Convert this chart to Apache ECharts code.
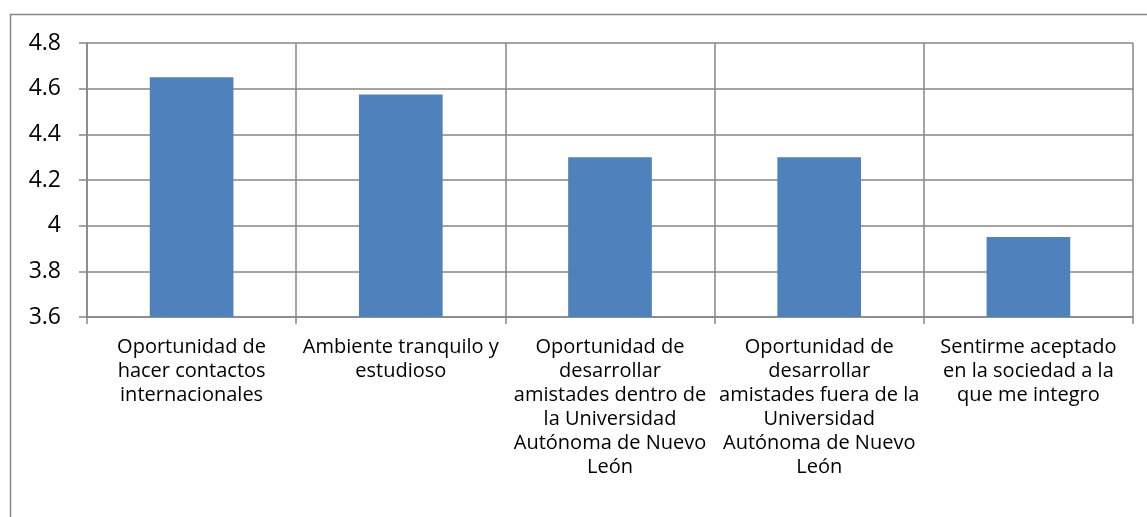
<!DOCTYPE html>
<html>
<head>
<meta charset="utf-8">
<script src="https://cdn.jsdelivr.net/npm/echarts@6/dist/echarts.min.js"></script>
<style>
  html, body { margin: 0; padding: 0; background: #fff; }
  #chart { width: 1147px; height: 517px; }
</style>
</head>
<body>
<div id="chart"></div>
<script>
// categorías (saltos de línea como en el original)
const categories = [
  'Oportunidad de\nhacer contactos\ninternacionales',
  'Ambiente tranquilo y\nestudioso',
  'Oportunidad de\ndesarrollar\namistades dentro de\nla Universidad\nAutónoma de Nuevo\nLeón',
  'Oportunidad de\ndesarrollar\namistades fuera de la\nUniversidad\nAutónoma de Nuevo\nLeón',
  'Sentirme aceptado\nen la sociedad a la\nque me integro'
];
const values = [4.65, 4.575, 4.3, 4.3, 3.95];

const yMin = 3.6;
const yMax = 4.8;
const yStep = 0.2;

const gridColor = '#868686';
const barColor = '#4F81BD';
const fontFamily = '"Open Sans", sans-serif';

const chart = echarts.init(document.getElementById('chart'));

chart.setOption({
  animation: false,
  graphic: [
    {
      type: 'rect',
      shape: { x: 10.5, y: 14.5, width: 1200, height: 600 },
      style: { fill: 'none', stroke: gridColor, lineWidth: 1.5 },
      silent: true
    }
  ],
  grid: { left: 87, right: 14, top: 43, bottom: 200 },
  xAxis: {
    type: 'category',
    data: categories,
    boundaryGap: true,
    axisLine: { show: true, lineStyle: { color: gridColor, width: 1.5 } },
    axisTick: { show: true, length: 7, alignWithLabel: false, lineStyle: { color: gridColor, width: 1.5 } },
    splitLine: { show: true, lineStyle: { color: gridColor, width: 1.5 } },
    axisLabel: {
      interval: 0,
      color: '#000',
      fontFamily: fontFamily,
      fontSize: 20,
      lineHeight: 24,
      margin: 18,
      align: 'center'
    }
  },
  yAxis: {
    type: 'value',
    min: yMin,
    max: yMax,
    interval: yStep,
    axisLine: { show: true, lineStyle: { color: gridColor, width: 1.5 } },
    axisTick: { show: true, length: 8, inside: false, lineStyle: { color: gridColor, width: 1.5 } },
    splitLine: { show: true, lineStyle: { color: gridColor, width: 1.5 } },
    axisLabel: {
      color: '#000',
      fontFamily: fontFamily,
      fontSize: 23,
      margin: 26,
      formatter: function (v) {
        return String(Math.round(v * 10) / 10);
      }
    }
  },
  series: [
    {
      type: 'bar',
      data: values,
      barWidth: '40%',
      itemStyle: { color: barColor }
    }
  ]
});
</script>
</body>
</html>
